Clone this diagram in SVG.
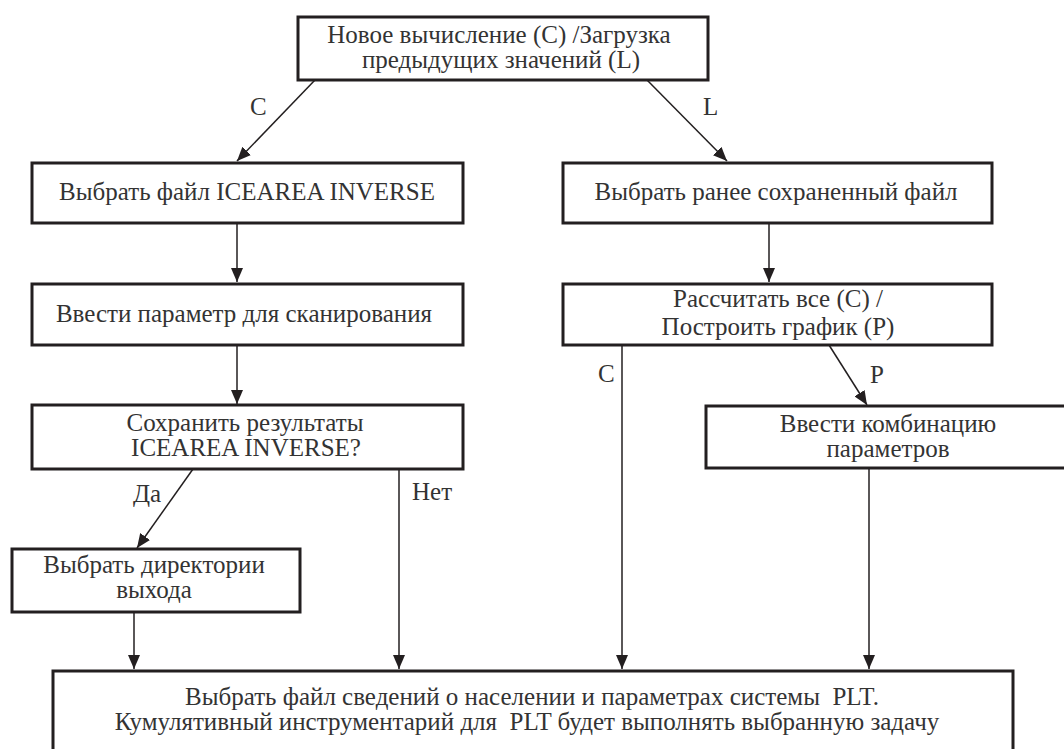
<svg xmlns="http://www.w3.org/2000/svg" width="1064" height="749" viewBox="0 0 1064 749">
<defs>
<style>
.box{fill:#fff;stroke:#231f20;stroke-width:3}
.t{font-family:"Liberation Serif","Times New Roman",serif;font-size:25px;fill:#333;text-anchor:middle}
.lbl{font-family:"Liberation Serif","Times New Roman",serif;font-size:25px;fill:#333}
.ln{stroke:#231f20;stroke-width:1.5;fill:none}
</style>
<marker id="ah" markerWidth="14" markerHeight="12" viewBox="0 0 14 12" refX="14" refY="6" orient="auto" markerUnits="userSpaceOnUse">
<path d="M0,0 L14,6 L0,12 z" fill="#231f20"/>
</marker>
</defs>
<rect width="1064" height="749" fill="#fff"/>
<g id="connectors">
<line class="ln" x1="315" y1="80" x2="237" y2="161" marker-end="url(#ah)"/>
<line class="ln" x1="647" y1="80" x2="727" y2="161" marker-end="url(#ah)"/>
<line class="ln" x1="237" y1="223" x2="237" y2="282" marker-end="url(#ah)"/>
<line class="ln" x1="237" y1="345" x2="237" y2="404" marker-end="url(#ah)"/>
<line class="ln" x1="769" y1="223" x2="769" y2="282" marker-end="url(#ah)"/>
<line class="ln" x1="193" y1="469" x2="137" y2="548" marker-end="url(#ah)"/>
<line class="ln" x1="399" y1="469" x2="399" y2="669" marker-end="url(#ah)"/>
<line class="ln" x1="134" y1="612" x2="134" y2="669" marker-end="url(#ah)"/>
<line class="ln" x1="622" y1="345" x2="622" y2="669" marker-end="url(#ah)"/>
<line class="ln" x1="829" y1="345" x2="867" y2="405" marker-end="url(#ah)"/>
<line class="ln" x1="869" y1="468" x2="869" y2="669" marker-end="url(#ah)"/>
<text class="lbl" x="250" y="115">C</text>
<text class="lbl" x="703" y="115">L</text>
<text class="lbl" x="598" y="382">C</text>
<text class="lbl" x="870" y="383">P</text>
<text class="lbl" x="133" y="502">Да</text>
<text class="lbl" x="412" y="500">Нет</text>
</g>
<g id="n-top">
<rect class="box" x="298" y="17" width="410" height="63"/>
<text class="t" x="499" y="43">Новое вычисление (С) /Загрузка</text>
<text class="t" x="501" y="68">предыдущих значений (L)</text>
</g>
<g id="n-icearea">
<rect class="box" x="32" y="163" width="431" height="60"/>
<text class="t" x="247" y="200">Выбрать файл ICEAREA INVERSE</text>
</g>
<g id="n-scan">
<rect class="box" x="32" y="284" width="431" height="61"/>
<text class="t" x="244" y="322">Ввести параметр для сканирования</text>
</g>
<g id="n-save">
<rect class="box" x="32" y="405" width="431" height="64"/>
<text class="t" x="245" y="431">Сохранить результаты</text>
<text class="t" x="246" y="456">ICEAREA INVERSE?</text>
</g>
<g id="n-dir">
<rect class="box" x="12" y="549" width="288" height="63"/>
<text class="t" x="154" y="573">Выбрать директории</text>
<text class="t" x="154" y="598">выхода</text>
</g>
<g id="n-prev">
<rect class="box" x="563" y="163" width="429" height="60"/>
<text class="t" x="776" y="200">Выбрать ранее сохраненный файл</text>
</g>
<g id="n-calc">
<rect class="box" x="563" y="284" width="429" height="61"/>
<text class="t" x="778" y="307">Рассчитать все (C) /</text>
<text class="t" x="778" y="335">Построить график (P)</text>
</g>
<g id="n-comb">
<rect class="box" x="706" y="406" width="360" height="62"/>
<text class="t" x="888" y="432">Ввести комбинацию</text>
<text class="t" x="888" y="457">параметров</text>
</g>
<g id="n-bottom">
<rect class="box" x="53" y="671" width="960" height="100"/>
<text class="t" x="532" y="705" xml:space="preserve">Выбрать файл сведений о населении и параметрах системы  PLT.</text>
<text class="t" x="527" y="730" xml:space="preserve">Кумулятивный инструментарий для  PLT будет выполнять выбранную задачу</text>
</g>
</svg>
